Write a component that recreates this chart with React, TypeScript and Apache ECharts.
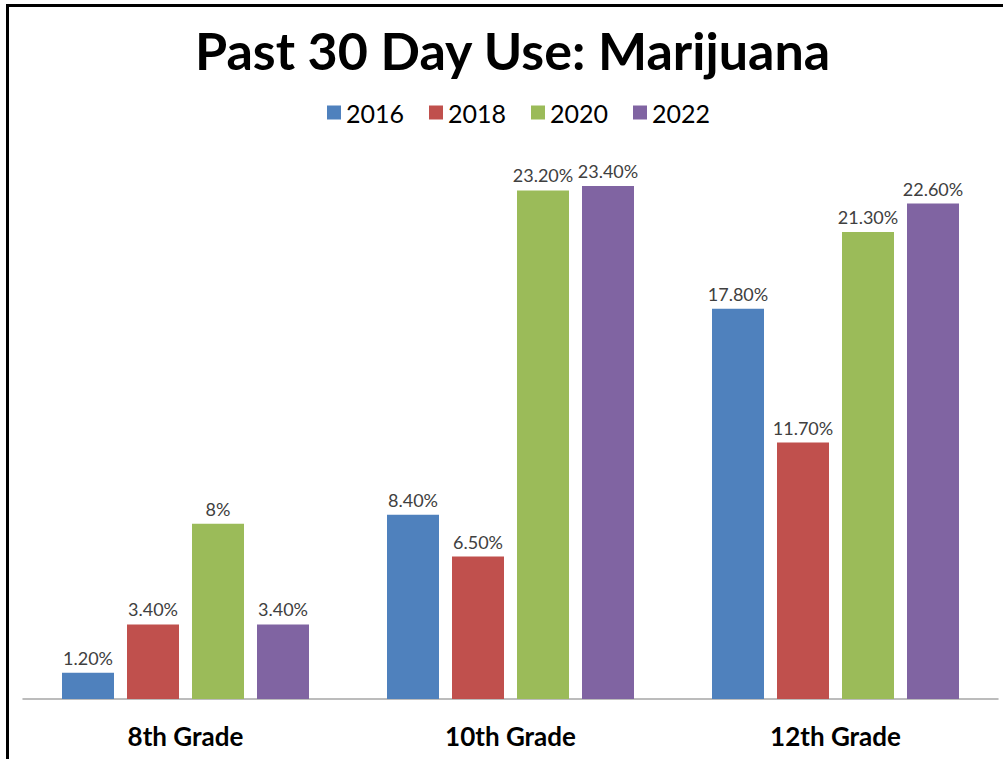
import React, { useEffect, useRef } from "react";
import * as echarts from "echarts";

const categories = ["8th Grade", "10th Grade", "12th Grade"];
const years = ["2016", "2018", "2020", "2022"];
const values2016 = [1.2, 8.4, 17.8];
const values2018 = [3.4, 6.5, 11.7];
const values2020 = [8, 23.2, 21.3];
const values2022 = [3.4, 23.4, 22.6];
const colors = ["#4F81BD", "#C0504D", "#9BBB59", "#8064A2"];

const seriesValues = [values2016, values2018, values2020, values2022];

const fmt = (v: number) => (Number.isInteger(v) ? `${v}%` : `${v.toFixed(2)}%`);

export default function App() {
  const ref = useRef<HTMLDivElement>(null);

  useEffect(() => {
    if (!ref.current) return;
    const chart = echarts.init(ref.current, undefined, { renderer: "svg" });
    chart.setOption({
      animation: false,
      backgroundColor: "#ffffff",
      title: {
        text: "Past 30 Day Use: Marijuana",
        left: 190,
        top: 19,
        textStyle: {
          fontFamily: "Lato",
          fontWeight: "bold",
          fontSize: 52,
          color: "#000000",
        },
      },
      legend: {
        top: 95,
        left: 322,
        itemWidth: 14,
        itemHeight: 14,
        itemGap: 25,
        icon: "rect",
        data: years,
        textStyle: {
          fontFamily: "Lato",
          fontSize: 25,
          color: "#000000",
        },
      },
      grid: {
        left: 23,
        right: 5,
        top: 151,
        bottom: 60,
      },
      xAxis: {
        type: "category",
        data: categories,
        axisLine: { lineStyle: { color: "#A6A6A6", width: 1.5 } },
        axisTick: { show: false },
        axisLabel: {
          margin: 24,
          fontFamily: "Lato",
          fontWeight: "bold",
          fontSize: 26,
          color: "#000000",
        },
      },
      yAxis: {
        type: "value",
        min: 0,
        max: 25,
        show: false,
        splitLine: { show: false },
      },
      graphic: [
        {
          type: "polyline",
          shape: { points: [[7.5, 759], [7.5, 5.5], [1003, 5.5]] },
          style: { stroke: "#000000", lineWidth: 3, fill: "none" },
          z: 100,
        },
      ],
      series: years.map((y, i) => ({
        name: y,
        type: "bar",
        data: seriesValues[i],
        barWidth: 52,
        barGap: "25%",
        itemStyle: { color: colors[i] },
        label: {
          show: true,
          position: "top",
          distance: 6,
          fontFamily: "Lato",
          fontSize: 18,
          color: "#404040",
          formatter: (p: any) => fmt(p.value),
        },
      })),
    });
    return () => chart.dispose();
  }, []);

  return (
    <div
      ref={ref}
      style={{ position: "absolute", left: 0, top: 0, width: 1003, height: 759 }}
    />
  );
}
